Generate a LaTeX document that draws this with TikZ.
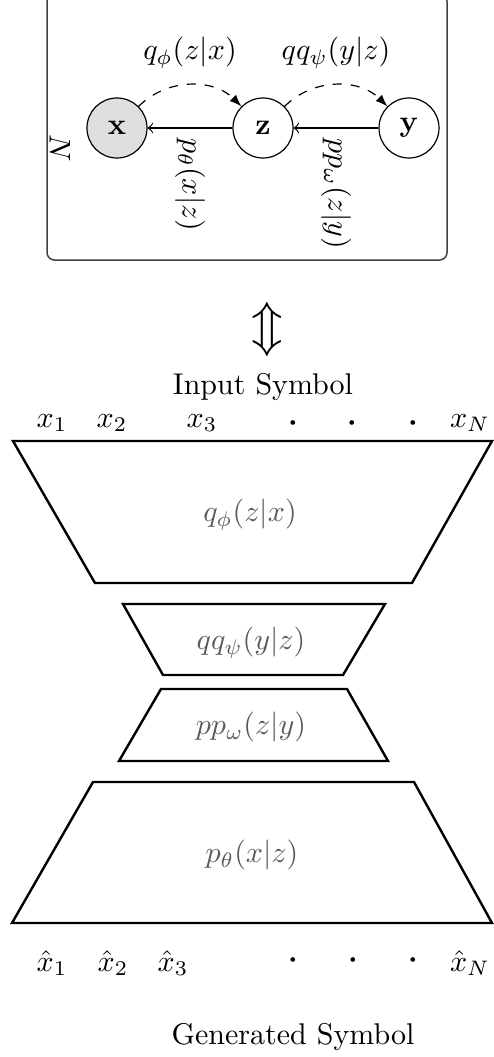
\documentclass[tikz,border=0pt]{standalone}
\usepackage{amsmath, amssymb, bm}
\usetikzlibrary{positioning}
\usetikzlibrary{arrows}

\begin{document}
\begin{tikzpicture}[x=0.3333pt,y=0.3333pt,
  latent/.style={draw,circle,minimum size=20pt,inner sep=0pt},
  obs/.style={latent,fill=gray!25},
  infer/.style={dashed,-latex},
  gen/.style={->},
  plate/.style={draw=black!75,rounded corners=2.5pt,line width=0.5pt},
  block/.style={draw,thick},
  fn/.style={text=black!65},
  sym/.style={inner sep=1pt}]
\useasboundingbox (0,0) rectangle (494,-1057);
% graphical model
\draw[plate] (47,6) rectangle (447,-260);
\node[obs] (x) at (117,-128) {$\mathbf{x}$};
\node[latent] (z) at (263,-128) {$\mathbf{z}$};
\node[latent] (y) at (409,-128) {$\mathbf{y}$};
\node[rotate=-90] (plateN) at (60,-148) {$N$};
\draw[gen] (z) -- node[rotate=-90,anchor=west] (pxz) {$p_\theta(x|z)$} (x);
\draw[gen] (y) -- node[rotate=-90,anchor=west] (pzy) {$pp_\omega(z|y)$} (z);
\draw[infer] (x) to[bend left=45] node[above=2pt] (qzx) {$q_\phi(z|x)$} (z);
\draw[infer] (z) to[bend left=45] node[above=2pt] (qyz) {$qq_\psi(y|z)$} (y);
\node[font=\LARGE] (dual) at (267,-330) {$\Updownarrow$};
% encoder / decoder
\node (insym) at (263,-387) {Input Symbol};
\node[sym] (in1) at (52,-423) {$x_1$};
\node[sym] (in2) at (112,-423) {$x_2$};
\node[sym] (in3) at (202,-423) {$x_3$};
\node[sym] (ind1) at (293,-423) {$\bm{\cdot}$};
\node[sym] (ind2) at (352,-423) {$\bm{\cdot}$};
\node[sym] (ind3) at (413,-423) {$\bm{\cdot}$};
\node[sym] (inN) at (470,-423) {$x_N$};
\draw[block] (13,-441) -- (492,-441) -- (412,-583) -- (95,-583) -- cycle;
\node[fn] (enc1) at (250,-515) {$q_\phi(z|x)$};
\draw[block] (123,-604) -- (385,-604) -- (343,-675) -- (163,-675) -- cycle;
\node[fn] (enc2) at (251,-643) {$qq_\psi(y|z)$};
\draw[block] (161,-689) -- (347,-689) -- (388,-761) -- (119,-761) -- cycle;
\node[fn] (dec2) at (251,-727) {$pp_\omega(z|y)$};
\draw[block] (93,-782) -- (414,-782) -- (492,-923) -- (12,-923) -- cycle;
\node[fn] (dec1) at (252,-855) {$p_\theta(x|z)$};
\node[sym] (out1) at (52,-963) {$\hat{x}_1$};
\node[sym] (out2) at (113,-963) {$\hat{x}_2$};
\node[sym] (out3) at (173,-963) {$\hat{x}_3$};
\node[sym] (outd1) at (293,-960) {$\bm{\cdot}$};
\node[sym] (outd2) at (353,-960) {$\bm{\cdot}$};
\node[sym] (outd3) at (413,-960) {$\bm{\cdot}$};
\node[sym] (outN) at (470,-963) {$\hat{x}_N$};
\node (gensym) at (293,-1037) {Generated Symbol};
\end{tikzpicture}
\end{document}
